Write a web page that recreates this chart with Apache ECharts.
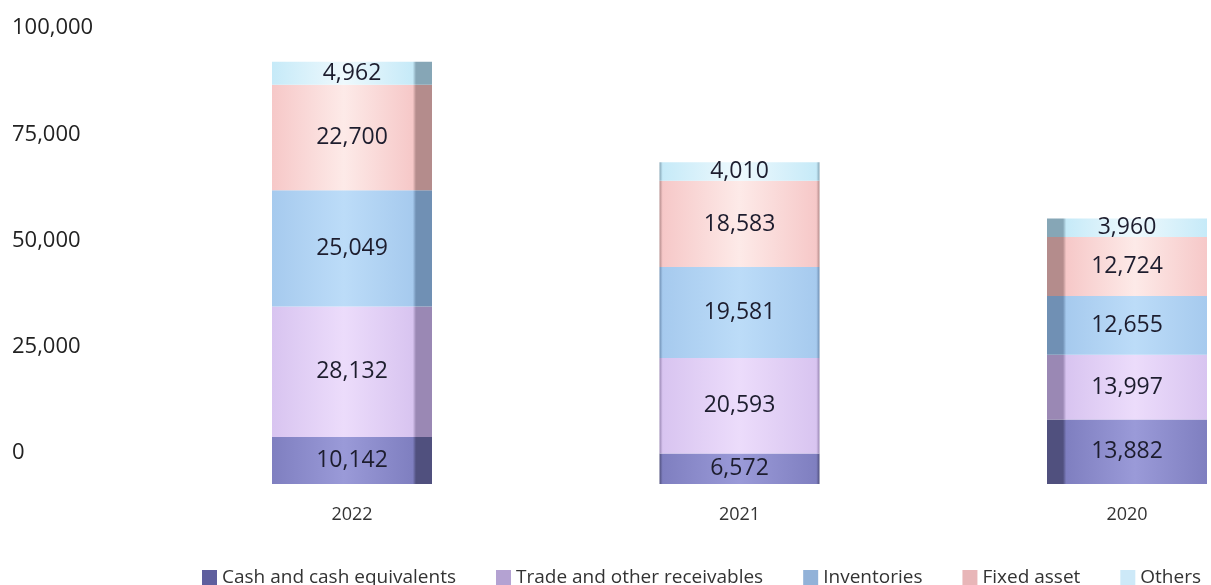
<!DOCTYPE html>
<html>
<head>
<meta charset="utf-8">
<script src="https://cdn.jsdelivr.net/npm/echarts@6/dist/echarts.min.js"></script>
<style>
  html, body { margin: 0; padding: 0; background: #fff; }
  #chart { width: 1211px; height: 585px; }
</style>
</head>
<body>
<div id="chart"></div>
<script>
const years = ["2022", "2021", "2020"];
const seriesNames = ["Cash and cash equivalents", "Trade and other receivables", "Inventories", "Fixed asset", "Others"];
const cash = [10142, 6572, 13882];
const receivables = [28132, 20593, 13997];
const inventories = [25049, 19581, 12655];
const fixedAsset = [22700, 18583, 12724];
const others = [4962, 4010, 3960];
const yTicks = [0, 25000, 50000, 75000, 100000];

// legend swatch colour, then bar shading: edge, centre highlight, side face
const palette = [
  { legend: "#5f5f9e", edge: "#7f7fc0", light: "#9a9ad8", side: "#50507e" },
  { legend: "#b4a2d2", edge: "#d8c4f0", light: "#ecdcfb", side: "#9a88b4" },
  { legend: "#92b2d8", edge: "#a6caee", light: "#bcdcf8", side: "#7090b4" },
  { legend: "#e8b6b8", edge: "#f6c8c8", light: "#fdeae8", side: "#b48c8c" },
  { legend: "#cde9f8", edge: "#c6eaf8", light: "#eef9fd", side: "#86a6b6" },
];
// which side of the bar shows the dark 3D face
const sideOf = ["right", "none", "left"];

const shade = (p, side) => {
  let stops;
  if (side === "left") {
    stops = [
      { offset: 0, color: p.side },
      { offset: 0.1, color: p.side },
      { offset: 0.12, color: p.edge },
      { offset: 0.55, color: p.light },
      { offset: 1, color: p.edge },
    ];
  } else if (side === "right") {
    stops = [
      { offset: 0, color: p.edge },
      { offset: 0.45, color: p.light },
      { offset: 0.88, color: p.edge },
      { offset: 0.9, color: p.side },
      { offset: 1, color: p.side },
    ];
  } else {
    stops = [
      { offset: 0, color: p.side },
      { offset: 0.02, color: p.edge },
      { offset: 0.5, color: p.light },
      { offset: 0.98, color: p.edge },
      { offset: 1, color: p.side },
    ];
  }
  return { type: "linear", x: 0, y: 0, x2: 1, y2: 0, colorStops: stops };
};

const values = [cash, receivables, inventories, fixedAsset, others];

const chart = echarts.init(document.getElementById("chart"));
chart.setOption({
  backgroundColor: "#ffffff",
  textStyle: { fontFamily: "Open Sans" },
  legend: {
    left: 197,
    top: 563,
    itemWidth: 15,
    itemHeight: 15,
    itemGap: 40,
    icon: "rect",
    textStyle: { fontSize: 19, color: "#333", fontFamily: "Open Sans" },
    data: seriesNames.map((n, i) => ({ name: n, itemStyle: { color: palette[i].legend } })),
  },
  grid: [
    // grid for the value tick labels
    { left: 12, right: 1100, top: 28, bottom: 132 },
    // grid for the bars
    { left: 352, right: 84, top: 20, bottom: 101 },
  ],
  xAxis: [
    { gridIndex: 0, type: "category", data: years, show: false },
    {
      gridIndex: 1,
      type: "category",
      data: years,
      boundaryGap: false,
      axisLine: { show: false },
      axisTick: { show: false },
      axisLabel: { margin: 22, fontSize: 18, color: "#333", fontFamily: "Open Sans" },
    },
  ],
  yAxis: [
    {
      gridIndex: 0,
      type: "value",
      min: yTicks[0],
      max: yTicks[yTicks.length - 1],
      interval: 25000,
      axisLine: { show: false },
      axisTick: { show: false },
      splitLine: { show: false },
      axisLabel: { inside: true, margin: 0, align: "left", fontSize: 22, color: "#222" },
    },
    {
      gridIndex: 1,
      type: "value",
      min: 0,
      max: 100000,
      show: false,
    },
  ],
  series: seriesNames.map((name, i) => ({
    name,
    type: "bar",
    stack: "total",
    xAxisIndex: 1,
    yAxisIndex: 1,
    barWidth: 160,
    clip: false,
    itemStyle: { color: palette[i].legend },
    label: {
      show: true,
      position: "inside",
      fontSize: 23,
      color: "#1d1d2e",
      fontFamily: "Open Sans",
      formatter: (p) => p.value.toLocaleString("en-US"),
    },
    data: values[i].map((v, j) => ({
      value: v,
      itemStyle: { color: shade(palette[i], sideOf[j]) },
    })),
  })),
});
</script>
</body>
</html>
